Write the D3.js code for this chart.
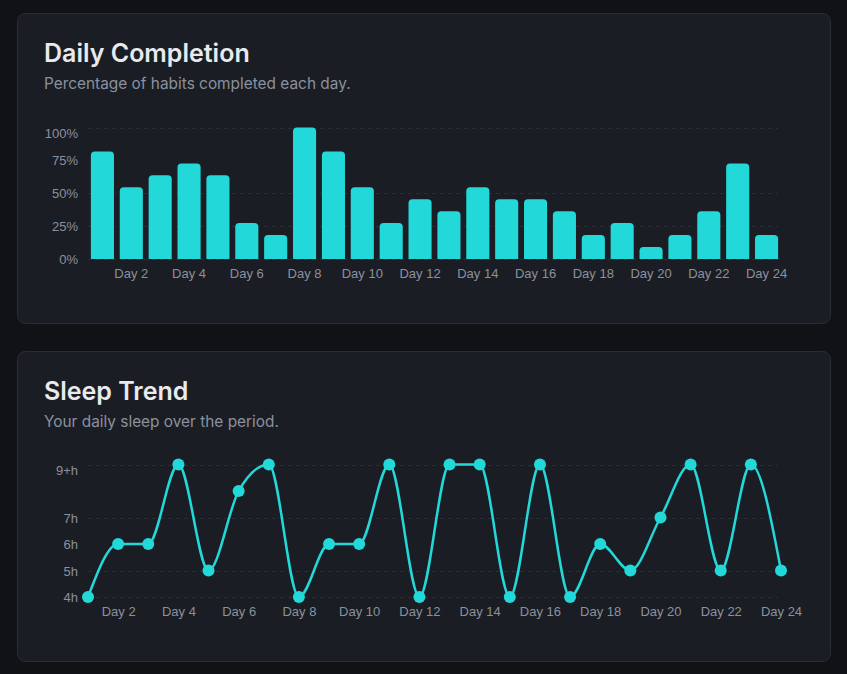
<!DOCTYPE html>
<html>
<head>
<meta charset="utf-8">
<script src="https://cdn.jsdelivr.net/npm/d3@7"></script>
<style>
  html, body { margin: 0; padding: 0; background: #111216; }
  svg { display: block; font-family: Inter, "Noto Sans", sans-serif; }
</style>
</head>
<body>
<svg id="chart" width="847" height="674"></svg>
<script>
// data
var days = d3.range(1, 25).map(function (d) { return "Day " + d; });
var completion = [81.8, 54.5, 63.6, 72.7, 63.6, 27.3, 18.2, 100, 81.8, 54.5, 27.3, 45.5,
                  36.4, 54.5, 45.5, 45.5, 36.4, 18.2, 27.3, 9.1, 18.2, 36.4, 72.7, 18.2];
var sleepHours = [4, 6, 6, 9, 5, 8, 9, 4, 6, 6, 9, 4, 9, 9, 4, 9, 4, 6, 5, 7, 9, 5, 9, 5];
var pctTicks = [0, 25, 50, 75, 100];
var pctGrid = [0, 25, 50, 100];
var sleepTicks = [4, 5, 6, 7, 9];
var sleepGrid = [4, 5, 7, 9];
var sleepLabels = { 4: "4h", 5: "5h", 6: "6h", 7: "7h", 9: "9+h" };
var dayLabels = days.filter(function (d, i) { return i % 2 === 1; });

var accent = "#22d8d8";
var muted = "#8a919e";
var svg = d3.select("#chart");

/** draw a card with its title and subtitle */
function card(top, title, sub) {
    svg.append("rect")
        .attr("x", 17.5).attr("y", top + 0.5)
        .attr("width", 813).attr("height", 310)
        .attr("rx", 8)
        .attr("fill", "#1b1d24")
        .attr("stroke", "#2a2d35");
    svg.append("text")
        .attr("x", 44).attr("y", top + 49)
        .attr("fill", "#e8eaee")
        .attr("font-size", 25).attr("font-weight", 600)
        .text(title);
    svg.append("text")
        .attr("x", 44).attr("y", top + 75.5)
        .attr("fill", muted)
        .attr("font-size", 15.4)
        .text(sub);
}

function grid(g, y, values) {
    g.selectAll("line.grid").data(values).enter().append("line")
        .attr("class", "grid")
        .attr("x1", 88).attr("x2", 778)
        .attr("y1", function (d) { return Math.round(y(d)) + 0.5; })
        .attr("y2", function (d) { return Math.round(y(d)) + 0.5; })
        .attr("stroke", "#2a2d36")
        .attr("stroke-dasharray", "4 4");
}

function yAxis(g, y, ticks, fmt) {
    var top = d3.min(y.range());
    var ax = g.append("g")
        .attr("transform", "translate(78,0)")
        .call(d3.axisLeft(y).tickValues(ticks).tickSize(0).tickPadding(0).tickFormat(fmt));
    ax.select(".domain").remove();
    ax.selectAll("text")
        .attr("fill", muted).attr("font-size", 13).attr("font-family", null)
        .attr("dy", function (d) { return y(d) === top ? "0.73em" : "0.35em"; });
}

function xAxis(g, x, ybase) {
    var ax = g.append("g")
        .attr("transform", "translate(0," + ybase + ")")
        .call(d3.axisBottom(x).tickValues(dayLabels).tickSize(0).tickPadding(0));
    ax.select(".domain").remove();
    ax.selectAll("text")
        .attr("fill", muted).attr("font-size", 13).attr("font-family", null)
        .attr("dy", 0).attr("y", 0);
}

// ---- Daily Completion ----
card(13, "Daily Completion", "Percentage of habits completed each day.");
var g1 = svg.append("g");
var xb = d3.scaleBand().domain(days).range([88, 781]).paddingInner(0.2).paddingOuter(0.1);
var yb = d3.scaleLinear().domain([0, 100]).range([259, 127.5]);
grid(g1, yb, pctGrid);
yAxis(g1, yb, pctTicks, function (d) { return d + "%"; });

var r = 4;
g1.selectAll("path.bar").data(completion).enter().append("path")
    .attr("class", "bar")
    .attr("fill", accent)
    .attr("d", function (v, i) {
        var x0 = xb(days[i]), w = xb.bandwidth(), y0 = yb(v), yB = yb(0);
        return "M" + x0 + "," + yB +
            "V" + (y0 + r) +
            "Q" + x0 + "," + y0 + " " + (x0 + r) + "," + y0 +
            "H" + (x0 + w - r) +
            "Q" + (x0 + w) + "," + y0 + " " + (x0 + w) + "," + (y0 + r) +
            "V" + yB + "Z";
    });
xAxis(g1, xb, 278);

// ---- Sleep Trend ----
card(351, "Sleep Trend", "Your daily sleep over the period.");
var g2 = svg.append("g");
var xs = d3.scalePoint().domain(days).range([88, 781]);
var ys = d3.scaleLinear().domain([4, 9]).range([597, 464.5]);
grid(g2, ys, sleepGrid);
yAxis(g2, ys, sleepTicks, function (d) { return sleepLabels[d]; });

var line = d3.line()
    .x(function (v, i) { return xs(days[i]); })
    .y(function (v) { return ys(v); })
    .curve(d3.curveMonotoneX);
g2.append("path")
    .datum(sleepHours)
    .attr("d", line)
    .attr("fill", "none")
    .attr("stroke", accent)
    .attr("stroke-width", 2.5);
g2.selectAll("circle").data(sleepHours).enter().append("circle")
    .attr("cx", function (v, i) { return xs(days[i]); })
    .attr("cy", function (v) { return ys(v); })
    .attr("r", 6)
    .attr("fill", accent);
xAxis(g2, xs, 616);
</script>
</body>
</html>
